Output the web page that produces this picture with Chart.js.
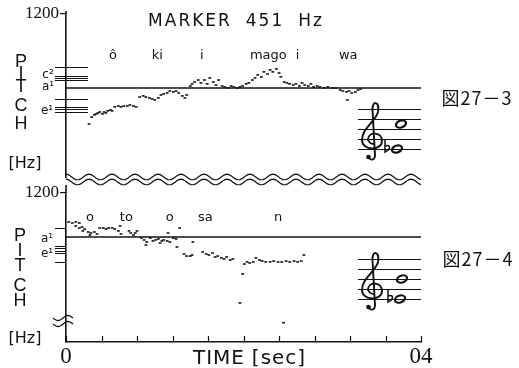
<!DOCTYPE html>
<html>
<head>
<meta charset="utf-8">
<script src="https://cdn.jsdelivr.net/npm/chart.js@4.4.1/dist/chart.umd.min.js"></script>
<style>
  html, body { margin: 0; padding: 0; background: #fff; }
  #wrap { position: relative; width: 519px; height: 368px; background: #fff; overflow: hidden;
          font-family: "DejaVu Sans", sans-serif; color: #111; }
  #wrap canvas { position: absolute; left: 0; top: 0; }
  .t { position: absolute; white-space: nowrap; transform: translate(-50%, -50%); line-height: 1; }
  .title { font-size: 17px; letter-spacing: 2px; }
  .fig { font-family: "Noto Sans CJK JP", sans-serif; font-size: 18px; letter-spacing: 1px; }
  .pitch { font-family: "Liberation Sans Narrow", sans-serif; font-size: 18px; }
  .hz { font-size: 16px; }
  .note { font-size: 12px; }
  .time { font-size: 20px; letter-spacing: 1px; }
</style>
</head>
<body>
<div id="wrap">
  <canvas id="topChart" width="519" height="368"></canvas>
  <canvas id="bottomChart" width="519" height="368"></canvas>

  <div class="t title" style="left:190px;top:20px">MARKER</div>
  <div class="t title" style="left:265px;top:20px">451</div>
  <div class="t title" style="left:311px;top:20px">Hz</div>

  <div class="t fig" style="left:477px;top:97px">図27－3</div>
  <div class="t fig" style="left:478px;top:258px">図27－4</div>

  <div class="t pitch" style="left:21px;top:61px">P</div>
  <div class="t pitch" style="left:21px;top:73px">I</div>
  <div class="t pitch" style="left:21px;top:86px">T</div>
  <div class="t pitch" style="left:21px;top:105px">C</div>
  <div class="t pitch" style="left:21px;top:123px">H</div>
  <div class="t hz" style="left:25px;top:163px">[Hz]</div>

  <div class="t pitch" style="left:20px;top:235px">P</div>
  <div class="t pitch" style="left:20px;top:250px">I</div>
  <div class="t pitch" style="left:20px;top:265px">T</div>
  <div class="t pitch" style="left:20px;top:285px">C</div>
  <div class="t pitch" style="left:20px;top:300px">H</div>
  <div class="t hz" style="left:25px;top:338px">[Hz]</div>

  <div class="t note" style="left:48px;top:74px">c²</div>
  <div class="t note" style="left:48px;top:86px">a¹</div>
  <div class="t note" style="left:47px;top:110px">e¹</div>
  <div class="t note" style="left:47px;top:238px">a¹</div>
  <div class="t note" style="left:47px;top:253px">e¹</div>

  <div class="t time" style="left:219px;top:357px">TIME</div>
  <div class="t time" style="left:279px;top:357px">[sec]</div>
</div>

<script>
// time axis (sec) and pitch axis (Hz)
const timeTicks = [0, 0.4, 0.8, 1.2, 1.6, 2.0, 2.4, 2.8, 3.2, 3.6, 4.0];
const timeTickLabels = ['0', '', '', '', '', '', '', '', '', '', '04'];
const pitchTicks = [1200];
const pitchTickLabels = ['1200'];
const markerHz = 451;

// 図27-3 : ôkii mago iwa
const topTime = [0.26, 0.29, 0.32, 0.34, 0.36, 0.38, 0.41, 0.43, 0.45, 0.47, 0.50, 0.52,
  0.55, 0.59, 0.62, 0.65, 0.69, 0.72, 0.76, 0.79,
  0.83, 0.87, 0.90, 0.94, 0.97, 1.00, 1.04,
  1.07, 1.10, 1.14, 1.17, 1.21, 1.24, 1.27, 1.31, 1.34, 1.36,
  1.40, 1.42, 1.45, 1.49, 1.52, 1.56, 1.59, 1.62, 1.66, 1.69, 1.72,
  1.76, 1.79, 1.83, 1.86, 1.89, 1.93, 1.96, 1.99, 2.03, 2.06,
  2.10, 2.13, 2.16, 2.20, 2.23, 2.27, 2.30, 2.33, 2.37, 2.40, 2.42,
  2.46, 2.49, 2.52, 2.56, 2.59, 2.63, 2.66, 2.69, 2.73, 2.76, 2.79, 2.83,
  2.86, 2.91, 2.95, 3.00, 3.04,
  3.09, 3.12, 3.16, 3.19, 3.22, 3.26, 3.29, 3.32, 3.17];
const topHz = [280, 307, 316, 320, 324, 328, 320, 328, 324, 333, 337, 333,
  351, 355, 351, 355, 355, 360, 355, 351,
  400, 406, 400, 395, 390, 385, 395,
  411, 417, 422, 433, 428, 433, 422, 406, 395, 411,
  463, 476, 488, 501, 482, 501, 476, 515, 488, 469, 501,
  463, 457, 451, 463, 457, 451, 457, 463, 476, 482,
  501, 515, 536, 522, 558, 543, 573, 558, 580, 550, 522,
  488, 482, 476, 469, 476, 463, 482, 469, 463, 476, 457, 463,
  457, 451, 457, 451, 451,
  439, 433, 428, 433, 422, 428, 439, 445, 385];
const topSyllables = ['ô', 'ki', 'i', 'mago', 'i', 'wa'];
const topSyllableTime = [0.53, 1.03, 1.53, 2.28, 2.61, 3.18];
const topNoteLines = [595, 529, 514, 501, 390, 351, 342, 328];

// 図27-4 : o to o sa n
const bottomTime = [0.03, 0.07, 0.11, 0.15, 0.11, 0.15, 0.18, 0.21, 0.19, 0.25, 0.28, 0.32, 0.35, 0.27,
  0.38, 0.42, 0.45, 0.48, 0.52, 0.55, 0.59, 0.61, 0.62,
  0.71, 0.73, 0.76, 0.78, 0.80,
  0.85, 0.88, 0.91, 0.95, 0.98, 1.01, 1.04, 1.06, 1.08, 0.90,
  1.10, 1.14, 1.17, 1.15, 1.21, 1.24, 1.25, 1.28,
  1.33, 1.36, 1.40, 1.42, 1.43,
  1.54, 1.58, 1.61, 1.65, 1.68, 1.71, 1.75, 1.78, 1.81, 1.85, 1.88,
  2.01, 2.04, 2.07, 2.11, 1.99,
  2.14, 2.18, 2.21, 2.25, 2.30, 2.34, 2.39, 2.43, 2.48, 2.52, 2.57, 2.61, 2.65, 2.68,
  1.96, 2.45];
const bottomHz = [630, 616, 630, 616, 576, 551, 563, 539, 516, 504, 493, 504, 482, 471,
  551, 551, 539, 551, 551, 539, 516, 576, 482,
  516, 493, 471, 493, 516,
  441, 422, 403, 441, 413, 422, 432, 394, 413, 377,
  422, 413, 403, 493, 441, 432, 361, 551,
  309, 295, 295, 302, 403,
  323, 309, 302, 316, 289, 295, 283, 276, 289, 270, 276,
  247, 259, 253, 259, 198,
  283, 270, 264, 259, 259, 264, 259, 259, 264, 259, 264, 259, 264, 302,
  104, 67];
const bottomSyllables = ['o', 'to', 'o', 'sa', 'n'];
const bottomSyllableTime = [0.27, 0.68, 1.17, 1.57, 2.39];
const bottomNoteLines = [551, 369, 351, 332, 314, 259];

const INK = '#111';

function drawSyllables(ctx, xScale, words, times, yPix) {
  ctx.save();
  ctx.font = '13px "DejaVu Sans"';
  ctx.fillStyle = INK;
  ctx.textAlign = 'center';
  ctx.textBaseline = 'middle';
  words.forEach((w, i) => ctx.fillText(w, xScale.getPixelForValue(times[i]), yPix));
  ctx.restore();
}

function drawNoteLines(ctx, yScale, values, x1, x2) {
  ctx.save();
  ctx.strokeStyle = INK;
  ctx.lineWidth = 1;
  values.forEach(v => {
    const yy = Math.round(yScale.getPixelForValue(v)) + 0.5;
    ctx.beginPath(); ctx.moveTo(x1, yy); ctx.lineTo(x2, yy); ctx.stroke();
  });
  ctx.restore();
}

// small staff with treble clef and two whole notes
function drawStaff(ctx, top, notes) {
  ctx.save();
  ctx.strokeStyle = INK;
  ctx.fillStyle = INK;
  ctx.lineWidth = 1;
  for (let i = 0; i < 5; i++) {
    const yy = top + i * 10 + 0.5;
    ctx.beginPath(); ctx.moveTo(358, yy); ctx.lineTo(421, yy); ctx.stroke();
  }
  const cx = 372, g = top + 30;
  ctx.lineWidth = 1.9;
  ctx.beginPath();
  ctx.moveTo(cx - 3, g + 17);
  ctx.bezierCurveTo(cx - 3, g + 22, cx + 3, g + 22, cx + 3, g + 16);
  ctx.lineTo(cx + 0.5, g - 29);
  ctx.bezierCurveTo(cx, g - 39, cx + 8, g - 38, cx + 6, g - 27);
  ctx.bezierCurveTo(cx + 4, g - 18, cx - 10, g - 11, cx - 10, g + 1);
  ctx.bezierCurveTo(cx - 10, g + 12, cx + 10, g + 12, cx + 10, g + 2);
  ctx.bezierCurveTo(cx + 10, g - 7, cx - 3, g - 8, cx - 4, g);
  ctx.bezierCurveTo(cx - 4, g + 3, cx - 1, g + 5, cx + 2, g + 5);
  ctx.stroke();
  ctx.beginPath(); ctx.arc(cx - 3.5, g + 18, 2.3, 0, Math.PI * 2); ctx.fill();
  notes.forEach(n => {
    ctx.lineWidth = 2.2;
    ctx.beginPath(); ctx.ellipse(n.x, n.y, 5.2, 3.4, -0.35, 0, Math.PI * 2); ctx.stroke();
    if (n.flat) {
      // flat sign: stem plus bowl
      const fx = n.x - 12;
      ctx.lineWidth = 1.5;
      ctx.beginPath();
      ctx.moveTo(fx, n.y - 10);
      ctx.lineTo(fx, n.y + 3);
      ctx.bezierCurveTo(fx + 6, n.y, fx + 6, n.y - 5, fx, n.y - 3);
      ctx.stroke();
    }
  });
  ctx.restore();
}

const topDeco = {
  id: 'topDeco',
  afterDraw(chart) {
    const { ctx, chartArea, scales } = chart;
    drawNoteLines(ctx, scales.y, topNoteLines, 55, 88);
    // axis stub above 1200
    ctx.save();
    ctx.strokeStyle = INK; ctx.lineWidth = 1.6;
    ctx.beginPath(); ctx.moveTo(chartArea.left, chartArea.top - 3); ctx.lineTo(chartArea.left, chartArea.top); ctx.stroke();
    // double wave = axis break
    ctx.lineWidth = 1.2;
    [177, 182].forEach(y0 => {
      ctx.beginPath();
      for (let px = chartArea.left; px <= chartArea.right; px++) {
        const yy = y0 - 2.8 * Math.cos(2 * Math.PI * (px - chartArea.left) / 23);
        if (px === chartArea.left) ctx.moveTo(px, yy); else ctx.lineTo(px, yy);
      }
      ctx.stroke();
    });
    ctx.restore();
    drawStaff(ctx, 109, [{ x: 401, y: 124 }, { x: 397, y: 149, flat: true }]);
    drawSyllables(ctx, scales.x, topSyllables, topSyllableTime, 56);
  }
};

const bottomDeco = {
  id: 'bottomDeco',
  afterDraw(chart) {
    const { ctx, chartArea, scales } = chart;
    drawNoteLines(ctx, scales.y, bottomNoteLines, 55, 66);
    ctx.save();
    ctx.strokeStyle = INK; ctx.lineWidth = 1.6;
    ctx.beginPath(); ctx.moveTo(chartArea.left, 185); ctx.lineTo(chartArea.left, chartArea.top); ctx.stroke();
    // time ticks point into the plot
    ctx.lineWidth = 1.2;
    timeTicks.forEach(v => {
      const px = Math.round(scales.x.getPixelForValue(v)) + 0.5;
      ctx.beginPath(); ctx.moveTo(px, chartArea.bottom); ctx.lineTo(px, chartArea.bottom - 6); ctx.stroke();
    });
    // break mark on the pitch axis
    ctx.lineWidth = 1.3;
    [318, 324].forEach(y0 => {
      ctx.beginPath();
      for (let px = 53; px <= 73; px++) {
        const yy = y0 + 2.5 * Math.sin(2 * Math.PI * (px - 53) / 20);
        if (px === 53) ctx.moveTo(px, yy); else ctx.lineTo(px, yy);
      }
      ctx.stroke();
    });
    ctx.restore();
    drawStaff(ctx, 259, [{ x: 402, y: 279 }, { x: 400, y: 299, flat: true }]);
    drawSyllables(ctx, scales.x, bottomSyllables, bottomSyllableTime, 218);
  }
};

function pitchAxis(min) {
  return {
    type: 'logarithmic',
    min: min,
    max: 1200,
    afterFit: s => { s.width = 66; },
    afterBuildTicks: s => { s.ticks = pitchTicks.map(v => ({ value: v })); },
    ticks: {
      callback: v => pitchTickLabels[pitchTicks.indexOf(v)] || '',
      font: { family: 'Liberation Sans Narrow', size: 17 },
      color: INK,
      padding: 1,
      autoSkip: false
    },
    grid: { display: true, drawOnChartArea: false, drawTicks: true, tickLength: 6, color: INK, lineWidth: 1.2 },
    border: { display: true, color: INK, width: 1.6 }
  };
}

function pitchDots(times, hz) {
  return {
    data: times.map((t, i) => ({ x: t, y: hz[i] })),
    pointStyle: 'line',
    pointRadius: 1.4,
    borderWidth: 1.6,
    borderColor: INK,
    backgroundColor: INK
  };
}

function markerLine() {
  return {
    data: [{ x: 0, y: markerHz }, { x: 4, y: markerHz }],
    showLine: true,
    borderColor: INK,
    borderWidth: 1.5,
    pointRadius: 0
  };
}

const common = {
  responsive: false,
  animation: false,
  devicePixelRatio: 1,
  plugins: { legend: { display: false }, tooltip: { enabled: false } }
};

new Chart(document.getElementById('topChart'), {
  type: 'scatter',
  data: { datasets: [markerLine(), pitchDots(topTime, topHz)] },
  options: {
    ...common,
    layout: { padding: { left: 0, right: 98, top: 14, bottom: 190 } },
    scales: {
      x: { type: 'linear', display: false, min: 0, max: 4 },
      y: pitchAxis(137)
    }
  },
  plugins: [topDeco]
});

new Chart(document.getElementById('bottomChart'), {
  type: 'scatter',
  data: { datasets: [markerLine(), pitchDots(bottomTime, bottomHz)] },
  options: {
    ...common,
    layout: { padding: { left: 0, right: 98, top: 193, bottom: 0 } },
    scales: {
      x: {
        type: 'linear',
        min: 0,
        max: 4,
        afterBuildTicks: s => { s.ticks = timeTicks.map(v => ({ value: v })); },
        afterFit: s => { s.height = 26; },
        ticks: {
          callback: (v, i) => timeTickLabels[i],
          font: { family: 'Liberation Sans Narrow', size: 23 },
          color: INK,
          padding: 1,
          maxRotation: 0,
          autoSkip: false
        },
        grid: { display: false, drawTicks: false },
        border: { display: true, color: INK, width: 1.6 }
      },
      y: pitchAxis(43.6)
    }
  },
  plugins: [bottomDeco]
});
</script>
</body>
</html>
